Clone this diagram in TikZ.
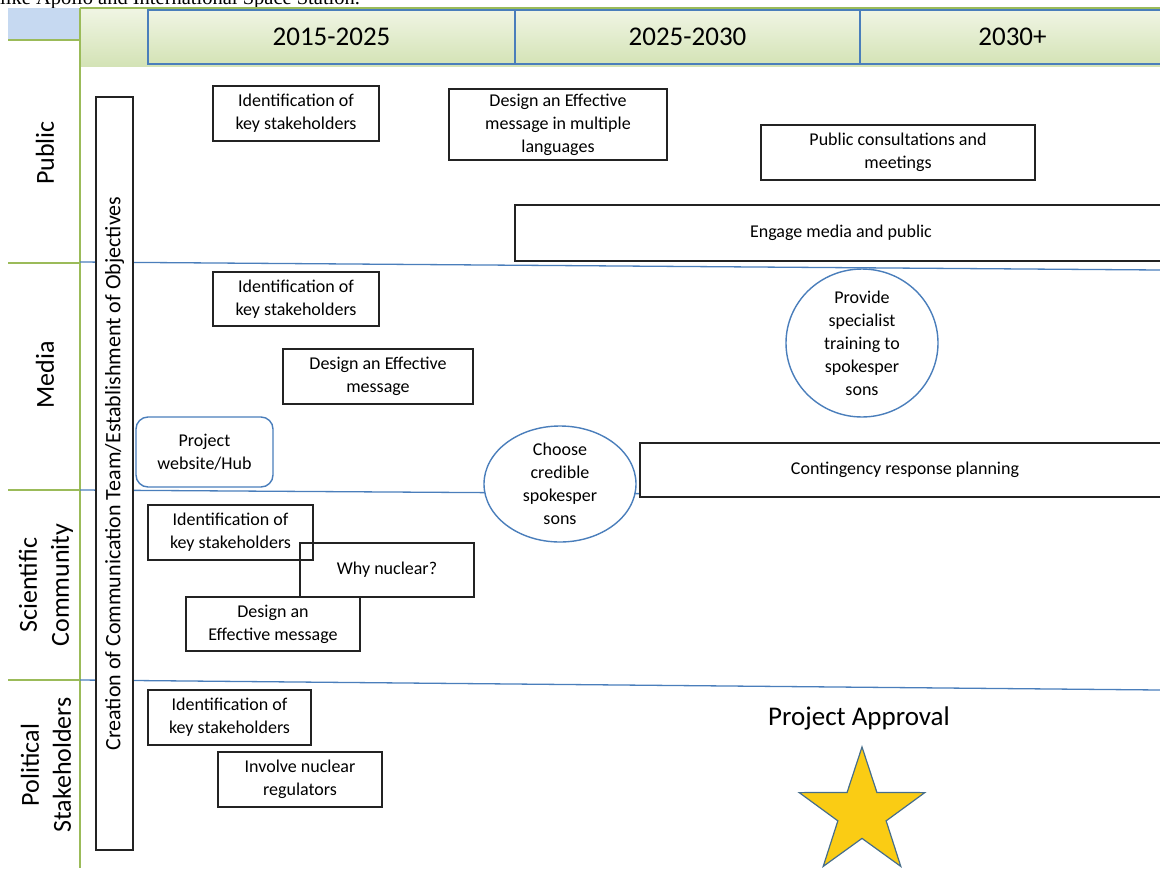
\documentclass[tikz,border=0pt]{standalone}
\usepackage{fontspec}
\setmainfont{Carlito}
\newfontfamily\serifbody{Liberation Serif}
\usetikzlibrary{shapes.geometric}

\definecolor{laneblue}{RGB}{74,126,187}
\definecolor{lanegreen}{RGB}{155,187,89}
\definecolor{hdrtop}{RGB}{240,245,228}
\definecolor{hdrbot}{RGB}{212,227,182}
\definecolor{cornerblue}{RGB}{198,217,241}
\definecolor{starfill}{RGB}{250,204,20}
\definecolor{staredge}{RGB}{70,110,140}
\definecolor{boxedge}{RGB}{35,35,35}

\tikzset{
  taskbox/.style={draw=boxedge, line width=1.6pt, align=center,
    font=\fontsize{18}{23}\selectfont, inner sep=2pt},
  oval/.style={ellipse, draw=laneblue, line width=1.4pt, fill=white, align=center,
    font=\fontsize{18}{23}\selectfont, inner sep=0pt},
  hdrcell/.style={draw=laneblue, line width=1.5pt, top color=hdrtop, bottom color=hdrbot,
    font=\fontsize{27}{29}\selectfont, inner sep=0pt},
  lanelabel/.style={rotate=90, align=center, font=\fontsize{26}{32}\selectfont, inner sep=0pt},
  laneline/.style={draw=laneblue, line width=1.3pt},
  stubline/.style={draw=lanegreen, line width=2pt}
}

\begin{document}
\begin{tikzpicture}[x=1pt,y=-1pt]
\useasboundingbox (0,0) rectangle (1160,868);

% running text line above the chart, cut by the page edge
\begin{scope}
  \clip (0,0) rectangle (1160,868);
  \node[anchor=base west, inner sep=0, font=\serifbody\fontsize{20.5}{20.5}\selectfont]
    (intro) at (0,4) {like Apollo and International Space Station.};
\end{scope}

% header band and corner cell
\shade[top color=hdrtop, bottom color=hdrbot] (80,8) rectangle (1160,66);
\draw[stubline] (80,8) -- (1160,8);
\fill[cornerblue] (8,8) rectangle (80,40);
\draw[stubline] (8,40) -- (80,40);
\draw[stubline] (80,8) -- (80,868);

\node[hdrcell, minimum width=367, minimum height=54] (h1) at (331.5,37) {2015-2025};
\node[hdrcell, minimum width=345, minimum height=54] (h2) at (687.5,37) {2025-2030};
\node[hdrcell, minimum width=305, minimum height=54] (h3) at (1012.5,37) {2030+};

% swim-lane separators
\draw[stubline] (8,263) -- (80,263);
\draw[stubline] (8,490) -- (80,490);
\draw[stubline] (8,680) -- (80,680);
\draw[laneline] (80,262) -- (1160,270);
\draw[laneline] (80,490) -- (1160,497);
\draw[laneline] (80,680) -- (1160,690);

% lane titles
\node[lanelabel] (lpub) at (45,153) {Public};
\node[lanelabel] (lmed) at (45,375) {Media};
\node[lanelabel] (lsci) at (46,585) {Scientific\\Community};
\node[lanelabel] (lpol) at (46,765) {Political\\Stakeholders};

% spanning objective bar
\node[draw=boxedge, fill=white, line width=1.8pt, rotate=90, minimum width=753, minimum height=37,
  inner sep=0pt, font=\fontsize{22}{23}\selectfont] (team) at (114.5,473.5)
  {Creation of Communication Team/Establishment of Objectives};

% Public lane
\node[taskbox, minimum width=166, minimum height=55] (pub1) at (296,113.5)
  {Identification of\\key stakeholders};
\node[taskbox, minimum width=218, minimum height=71] (pub2) at (558,124.5)
  {Design an Effective\\message in multiple\\languages};
\node[taskbox, minimum width=274, minimum height=55] (pub3) at (898,152.5)
  {Public consultations and\\meetings};
\node[taskbox, fill=white, minimum width=652, minimum height=56] (pub4) at (841,233)
  {Engage media and public};

% Media lane
\node[taskbox, minimum width=166, minimum height=54] (med1) at (296,299)
  {Identification of\\key stakeholders};
\node[taskbox, minimum width=190, minimum height=55] (med2) at (378,376.5)
  {Design an Effective\\message};
\node[draw=laneblue, line width=1.4pt, rounded corners=12pt, align=center,
  font=\fontsize{18}{23}\selectfont, minimum width=137, minimum height=70] (web)
  at (204.5,452) {Project\\website/Hub};
\node[oval, minimum width=152, minimum height=120] (train) at (862,343)
  {Provide\\specialist\\training to\\spokesper\\sons};
\node[taskbox, fill=white, minimum width=530, minimum height=54] (cont) at (905,470)
  {Contingency response planning};
\node[oval, minimum width=152, minimum height=116] (choose) at (560,484)
  {Choose\\credible\\spokesper\\sons};

% Scientific community lane
\node[taskbox, minimum width=165, minimum height=55] (sci1) at (230.5,532.5)
  {Identification of\\key stakeholders};
\node[taskbox, minimum width=174, minimum height=54] (sci2) at (387,570)
  {Why nuclear?};
\node[taskbox, minimum width=174, minimum height=54] (sci3) at (273,624)
  {Design an\\Effective message};

% Political stakeholders lane
\node[taskbox, minimum width=163, minimum height=55] (pol1) at (229.5,717.5)
  {Identification of\\key stakeholders};
\node[taskbox, minimum width=164, minimum height=55] (pol2) at (300,779.5)
  {Involve nuclear\\regulators};

% milestone
\node[font=\fontsize{27}{29}\selectfont, inner sep=0pt] (appr) at (859,718) {Project Approval};
\node[star, star points=5, star point ratio=2.6, minimum size=132, inner sep=0pt,
  fill=starfill, draw=staredge, line width=1.2pt] (approvalstar) at (862,813) {};
\end{tikzpicture}
\end{document}
